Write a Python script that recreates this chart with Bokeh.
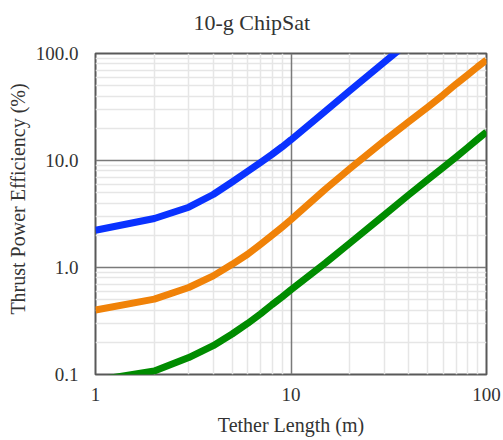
from bokeh.plotting import figure
from bokeh.models import Range1d, FixedTicker, NumeralTickFormatter, Grid, Title
from bokeh.embed import file_html
from bokeh.resources import INLINE

# Tether length (m)
length = [1, 2, 3, 4, 5, 6, 7, 8, 9, 10, 15, 20, 30, 40, 50, 60, 70, 80, 90, 100]
# Thrust power efficiency (%) for three cases
blue_eff = [2.23, 2.87, 3.66, 4.81, 6.3, 7.9, 9.6, 11.4, 13.4, 15.6, 28.9, 45.0, 83.0, 128.0]
orange_eff = [0.40, 0.506, 0.65, 0.835, 1.07, 1.33, 1.65, 2.0, 2.38, 2.8, 5.4, 8.4, 15.3, 23.0,
              31.5, 41.0, 52.0, 63.0, 75.0, 87.0]
green_eff = [0.088, 0.108, 0.144, 0.186, 0.239, 0.30, 0.37, 0.45, 0.53, 0.62, 1.1, 1.69, 3.1, 4.77,
             6.6, 8.6, 10.8, 13.2, 15.8, 18.5]

x_major = [1, 10, 100]
x_minor = [2, 3, 4, 5, 6, 7, 8, 9, 20, 30, 40, 50, 60, 70, 80, 90]
y_major = [0.1, 1, 10, 100]
y_minor = [0.2, 0.3, 0.4, 0.5, 0.6, 0.7, 0.8, 0.9, 2, 3, 4, 5, 6, 7, 8, 9,
           20, 30, 40, 50, 60, 70, 80, 90]

FONT = "Liberation Serif"
TXT = "#333333"

p = figure(width=503, height=440, x_axis_type="log", y_axis_type="log",
           x_range=Range1d(1, 100), y_range=Range1d(0.1, 100),
           output_backend="svg", toolbar_location=None, title=None,
           min_border_left=95, min_border_right=17, min_border_top=52, min_border_bottom=66)

# spacer between title and frame (added first = closest to the frame)
p.add_layout(Title(text=" ", text_font_size="9px", standoff=0), "above")
p.add_layout(Title(text="10-g ChipSat", text_font=FONT, text_font_size="22px",
                   text_font_style="normal", text_color=TXT, align="left",
                   offset=98, standoff=14), "above")

p.background_fill_color = "white"
p.border_fill_color = "white"
p.outline_line_color = "#595959"
p.outline_line_width = 2

xt = FixedTicker(ticks=x_major, minor_ticks=x_minor)
yt = FixedTicker(ticks=y_major, minor_ticks=y_minor)
for ax, tk in ((p.xaxis[0], xt), (p.yaxis[0], yt)):
    ax.ticker = tk
    ax.axis_line_color = None
    ax.major_tick_out = 0
    ax.major_tick_in = 0
    ax.minor_tick_out = 0
    ax.minor_tick_in = 0
    ax.major_label_text_font = FONT
    ax.major_label_text_font_size = "19px"
    ax.major_label_text_color = TXT
    ax.axis_label_text_font = FONT
    ax.axis_label_text_font_size = "20px"
    ax.axis_label_text_font_style = "normal"
    ax.axis_label_text_color = TXT

p.xaxis.formatter = NumeralTickFormatter(format="0")
p.yaxis.formatter = NumeralTickFormatter(format="0.0")
p.xaxis.axis_label = "Tether Length (m)"
# non-breaking spaces lift the centred title slightly, as in the reference
p.yaxis.axis_label = "\u00a0" * 6 + "Thrust Power Efficiency (%)"
p.xaxis.major_label_standoff = 13
p.yaxis.major_label_standoff = 17
p.xaxis.axis_label_standoff = 10
p.yaxis.axis_label_standoff = 4

# minor grid first, major grid drawn on top
for g in (p.xgrid[0], p.ygrid[0]):
    g.grid_line_color = None
    g.minor_grid_line_color = "#e6e6e6"
    g.minor_grid_line_width = 1.5
for dim, tk in ((0, xt), (1, yt)):
    p.add_layout(Grid(dimension=dim, ticker=tk, grid_line_color="#7a7a7a",
                      grid_line_width=1.5), "center")

p.line(length[:len(blue_eff)], blue_eff, line_color="#0a32ff", line_width=7, line_join="round")
p.line(length, orange_eff, line_color="#f08208", line_width=7, line_join="round")
p.line(length, green_eff, line_color="#008c00", line_width=7, line_join="round")

open("out.html", "w").write(file_html(p, INLINE))
